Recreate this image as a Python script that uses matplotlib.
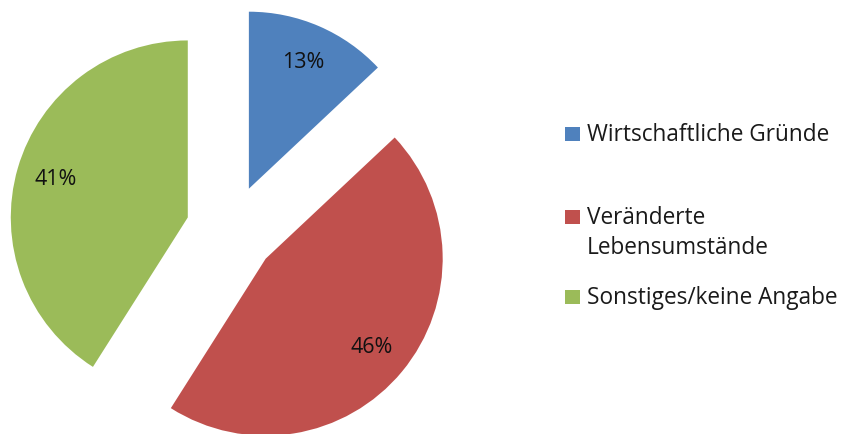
import matplotlib.pyplot as plt
from matplotlib.patches import Rectangle

labels = ["Wirtschaftliche Gründe", "Veränderte\nLebensumstände", "Sonstiges/keine Angabe"]
values = [13, 46, 41]
colors = ["#4F81BD", "#C0504D", "#9BBB59"]

plt.rcParams['font.family'] = ['Open Sans', 'DejaVu Sans']

W, H = 846, 435
fig = plt.figure(figsize=(W / 100, H / 100), dpi=100)
ax = fig.add_axes([0, 0, 1, 1])

radius = 177
ax.pie(values, colors=colors, startangle=90, counterclock=False,
       center=(231, H - 231), radius=radius, explode=[45, 45, 45],
       autopct='%1.0f%%', pctdistance=0.78,
       wedgeprops={'linewidth': 0},
       textprops={'fontsize': 15.5, 'color': '#111111'})
ax.set_xlim(0, W)
ax.set_ylim(0, H)
ax.set_aspect('equal')
ax.axis('off')

# manual legend (Excel style, uneven spacing)
leg_rows = [135, 218, 298]
line_gap = 30
for lab, col, y in zip(labels, colors, leg_rows):
    ax.add_patch(Rectangle((565, H - y - 7), 15, 14, facecolor=col, edgecolor='none'))
    for i, line in enumerate(lab.split('\n')):
        ax.text(587, H - y - i * line_gap, line, fontsize=16.3, color='#1a1a1a',
                va='center', ha='left')

fig.savefig("out.png", dpi=100)
